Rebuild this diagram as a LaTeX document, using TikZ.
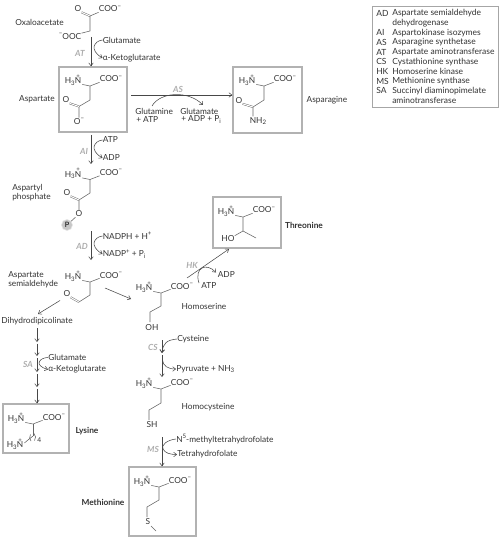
\documentclass[tikz,border=0pt]{standalone}
\usepackage{fontspec}
\setmainfont{Lato}
\usetikzlibrary{arrows.meta}
\newcommand\subn[1]{\raisebox{-.35ex}{\fontsize{4.6}{5}\selectfont #1}}
\newcommand\supn[1]{\raisebox{.9ex}{\fontsize{4.6}{5}\selectfont #1}}
\newcommand\HTN{H\subn{3}\rlap{\raisebox{1.25ex}{\hspace{.2em}\fontsize{4.6}{5}\selectfont +}}N}
\newcommand\COOm{COO\supn{−}}
% amino acid head: name, x, y of alpha carbon
\newcommand\aacid[3]{%
  \node[txt] (#1N) at (#2-17,#3-6) {\HTN};
  \node[txt] (#1O) at (#2+21,#3-7) {\COOm};
  \coordinate (#1C) at (#2,#3);
  \draw[bond] (#1N.south east) ++(1,-1) -- (#1C) -- (#1O.south west);
}
\tikzset{
  x=.75pt,y=-.75pt,
  txt/.style={inner sep=0pt,font=\fontsize{6.25}{7}\selectfont,text=black!80},
  lft/.style={txt,anchor=west},
  boldl/.style={txt,font=\fontsize{6.25}{7}\selectfont\bfseries},
  enz/.style={txt,font=\fontsize{6.3}{7}\selectfont\itshape\bfseries,text=black!32},
  bond/.style={draw=black!60,line width=.42pt},
  dbl/.style={draw=black!60,line width=.33pt,double=white,double distance=.75pt},
  arr/.style={draw=black!72,line width=.4pt,-{Straight Barb[length=2.2pt,width=3.4pt]}},
  box/.style={draw=black!30,line width=1.1pt,inner sep=0pt},
  legend/.style={txt,anchor=west,font=\fontsize{6.35}{7}\selectfont}
}
\begin{document}
\begin{tikzpicture}
\useasboundingbox (0,0) rectangle (500,538);
\fill[white] (0,0) rectangle (500,538);

% ---- boxes
\node[box,minimum width=68*.75pt,minimum height=65*.75pt] (bAsp) at (93,99.5) {};
\node[box,minimum width=69*.75pt,minimum height=66*.75pt] (bAsn) at (267.5,100) {};
\node[box,minimum width=68*.75pt,minimum height=51*.75pt] (bThr) at (247,222.5) {};
\node[box,minimum width=66*.75pt,minimum height=49*.75pt] (bLys) at (36,428.5) {};
\node[box,minimum width=67*.75pt,minimum height=69*.75pt] (bMet) at (162.5,501.5) {};
\node[draw=black!35,line width=.5pt,inner sep=0pt,minimum width=126*.75pt,minimum height=101*.75pt] (bLeg) at (435,56.5) {};

% ---- legend
\foreach \yy/\aa/\bb in {13.3/AD/Aspartate semialdehyde,23/{}/dehydrogenase,32.7/AI/Aspartokinase isozymes,42.3/AS/Asparagine synthetase,52/AT/Aspartate aminotransferase,61.7/CS/Cystathionine synthase,71.3/HK/Homoserine kinase,81/MS/Methionine synthase,90.7/SA/Succinyl diaminopimelate,100.3/{}/aminotransferase}{
  \node[legend] at (376,\yy) {\aa};
  \node[legend] at (392,\yy) {\bb};
}

% ---- oxaloacetate
\node[txt] (oxO) at (78,9) {O};
\node[txt] (oxA) at (110,9) {\COOm};
\node[txt] (oxB) at (70,36.5) {\supn{−}OOC};
\coordinate (ox1) at (90,16);
\coordinate (ox2) at (90,31);
\draw[dbl] (oxO.south east) -- (ox1);
\draw[bond] (oxA.south west) -- (ox1) -- (ox2) -- (oxB.north east);
\node[txt] at (39.5,22) {Oxaloacetate};

% ---- aspartate
\aacid{asp}{90}{86}
\node[txt] (aspA) at (66,100) {O};
\node[txt] (aspB) at (79,121) {O\supn{−}};
\coordinate (asp1) at (90,100); \coordinate (asp2) at (79,106.5);
\draw[bond] (aspC) -- (asp1) -- (asp2) -- (aspB.north);
\draw[dbl] (aspA.south east) -- (asp2);
\node[txt] at (37,99) {Aspartate};

% ---- asparagine
\aacid{asn}{264}{86}
\node[txt] (asnA) at (239,100.5) {O};
\node[txt] (asnB) at (258,121) {NH\subn{2}};
\coordinate (asn1) at (264,100); \coordinate (asn2) at (253,107);
\draw[bond] (asnC) -- (asn1) -- (asn2) -- (253,116.5);
\draw[dbl] (asnA.south east) -- (asn2);
\node[txt] at (327,100) {Asparagine};

% ---- aspartyl phosphate
\aacid{app}{90}{179.5}
\node[txt] (appA) at (67,193) {O};
\node[txt] (appB) at (79,214) {O};
\node[circle,fill=black!22,draw=black!10,line width=.4pt,minimum size=11*.75pt,inner sep=0pt,font=\fontsize{5.5}{6}\selectfont] (appP) at (67,225) {P};
\coordinate (app1) at (90,193); \coordinate (app2) at (79,200);
\draw[bond] (appC) -- (app1) -- (app2) -- (appB.north);
\draw[dbl] (appA.south east) -- (app2);
\draw[bond] (appB) -- (appP);
\node[lft] at (12,188) {Aspartyl};
\node[lft] at (12,197) {phosphate};

% ---- semialdehyde
\aacid{sem}{90}{282}
\node[txt] (semA) at (67,294) {O};
\coordinate (sem1) at (90,295); \coordinate (sem2) at (79,302);
\draw[bond] (semC) -- (sem1) -- (sem2);
\draw[dbl] (semA.south east) -- (sem2);
\node[lft] at (8,275.5) {Aspartate};
\node[lft] at (8,284) {semialdehyde};

% ---- homoserine
\aacid{hse}{161}{293}
\node[txt] (hseB) at (152,328) {OH};
\draw[bond] (hseC) -- (161,306) -- (150,312) -- (150,322);
\node[txt] at (204,306) {Homoserine};

% ---- threonine
\aacid{thr}{243}{217}
\node[txt] (thrB) at (228,239) {HO};
\coordinate (thr1) at (243,231);
\draw[bond] (thrC) -- (thr1) -- (thrB.north east);
\draw[bond] (thr1) -- (256,238);
\node[boldl] at (304,225) {Threonine};

% ---- homocysteine
\aacid{hcy}{161}{389}
\node[txt] (hcyB) at (152,425) {SH};
\draw[bond] (hcyC) -- (161,403) -- (149,410) -- (149,420);
\node[txt] at (208,407) {Homocysteine};

% ---- methionine
\aacid{met}{159}{487}
\node[txt] (metS) at (148,522) {S};
\draw[bond] (metC) -- (159,500) -- (147,507) -- (147,517);
\draw[bond] (metS) ++(3,4) -- (156,531);
\node[boldl] at (103,502) {Methionine};

% ---- lysine
\aacid{lys}{33}{424}
\node[txt] (lysE) at (15,444) {\HTN};
\draw[bond] (lysC) -- (33,436);
\draw[bond] (lysE.east) ++(1,-1) -- (28,440) -- (33,436);
\draw[bond] (30.5,434.5) .. controls (29,437) and (29.5,439) .. (31,441);
\draw[bond] (34,433.5) .. controls (36,436) and (36,438) .. (34.5,440.5);
\node[txt,anchor=west,font=\fontsize{5}{6}\selectfont] at (37,440) {4};
\node[boldl] at (87,431) {Lysine};

% ---- connectors, main chain
\coordinate (at0) at (91,37);
\draw[arr] (at0) -- (at0 |- bAsp.north);
\coordinate (ai0) at (91,135);
\coordinate (ai1) at (91,164);
\draw[arr] (ai0) -- (ai1);
\coordinate (ad0) at (91,231);
\coordinate (ad1) at (91,260);
\draw[arr] (ad0) -- (ad1);
\coordinate (as0) at (131,95);
\draw[arr] (as0) -- (as0 -| bAsn.west);
\node[enz] at (178,89) {AS};
\node[enz] at (80,53) {AT};
\node[enz] at (84,151) {AI};
\node[enz] at (82,246) {AD};

% side reactions
\node[lft] (glu1) at (102.5,40) {Glutamate};
\node[lft] (akg1) at (102.5,58) {α-Ketoglutarate};
\draw[arr] (glu1.west) .. controls (94,41) and (89,50) .. (akg1.west);
\node[lft] (atp1) at (102.5,140) {ATP};
\node[lft] (adp1) at (102.5,158) {ADP};
\draw[arr] (atp1.west) .. controls (94,141) and (89,150) .. (adp1.west);
\node[lft] (nad1) at (102.5,236) {NADPH + H\supn{+}};
\node[lft] (nad2) at (102.5,254) {NADP\supn{+} + P\subn{i}};
\draw[arr] (nad1.west) .. controls (94,237) and (89,246) .. (nad2.west);

\node[lft] (gln) at (135,111) {Glutamine};
\node[lft] at (136,119.5) {+ ATP};
\node[lft] (glu2) at (180,111) {Glutamate};
\node[lft] at (181,119.5) {+ ADP + P\subn{i}};
\coordinate (as1) at (152,106);
\coordinate (as2) at (203,105);
\draw[arr] (as1) .. controls (160,92) and (188,90) .. (as2);

% lysine branch
\node[txt] (dhd) at (37,321) {Dihydrodipicolinate};
\coordinate (sl0) at (60,300.5);
\coordinate (sl1) at (38,314);
\draw[arr] (sl0) -- (sl1);
\coordinate (ly1) at (37,342);
\coordinate (ly2) at (37,343.5);
\coordinate (ly3) at (37,356);
\coordinate (ly4) at (37,358);
\coordinate (ly5) at (37,372);
\coordinate (ly6) at (37,374);
\coordinate (ly7) at (37,387);
\coordinate (ly8) at (37,388.5);
\draw[arr] (dhd.south -| ly1) ++(0,3) -- (ly1);
\draw[arr] (ly2) -- (ly3);
\draw[arr] (ly4) -- (ly5);
\draw[arr] (ly6) -- (ly7);
\draw[arr] (ly8) -- (ly8 |- bLys.north);
\node[enz] at (28,364) {SA};
\node[lft] (glu3) at (48,357.5) {Glutamate};
\node[lft] (akg3) at (48,369.5) {α-Ketoglutarate};
\draw[arr] (glu3.west) .. controls (40,357.5) and (33,365) .. (akg3.west);

% to homoserine
\coordinate (hs0) at (105,288);
\coordinate (hs1) at (131,299);
\draw[arr] (hs0) -- (hs1);

% threonine branch
\coordinate (hk0) at (187,278);
\coordinate (hk1) at (229,249);
\draw[arr] (hk0) -- (hk1);
\node[enz] at (192,265) {HK};
\node[lft] (atp2) at (201,286) {ATP};
\node[lft] (adp2) at (217.5,275) {ADP};
\coordinate (hk2) at (216,272.5);
\draw[arr] (199,283) .. controls (194,268) and (206,262) .. (hk2);

% methionine branch
\coordinate (cs0) at (162,340);
\coordinate (cs1) at (162,353);
\coordinate (cs2) at (162,355);
\coordinate (cs3) at (162,377);
\draw[arr] (cs0) -- (cs1);
\draw[arr] (cs2) -- (cs3);
\node[enz] at (153,347.5) {CS};
\node[lft] (cys) at (177,339) {Cysteine};
\draw[arr] (cys.west) .. controls (167,340) and (163,343) .. (cs1);
\node[lft] (pyr) at (176,369) {Pyruvate + NH\subn{3}};
\draw[arr] (162.5,360) .. controls (163,366) and (168,369) .. (pyr.west);
\coordinate (ms0) at (162,437);
\draw[arr] (ms0) -- (ms0 |- bMet.north);
\node[enz] at (153,449.5) {MS};
\node[lft] (mth) at (176,439) {N\supn{5}-methyltetrahydrofolate};
\node[lft] (thf) at (177,454.5) {Tetrahydrofolate};
\draw[arr] (mth.west) .. controls (167,440) and (161,445) .. (163,449) .. controls (165,453) and (170,454.5) .. (thf.west);
\end{tikzpicture}
\end{document}
